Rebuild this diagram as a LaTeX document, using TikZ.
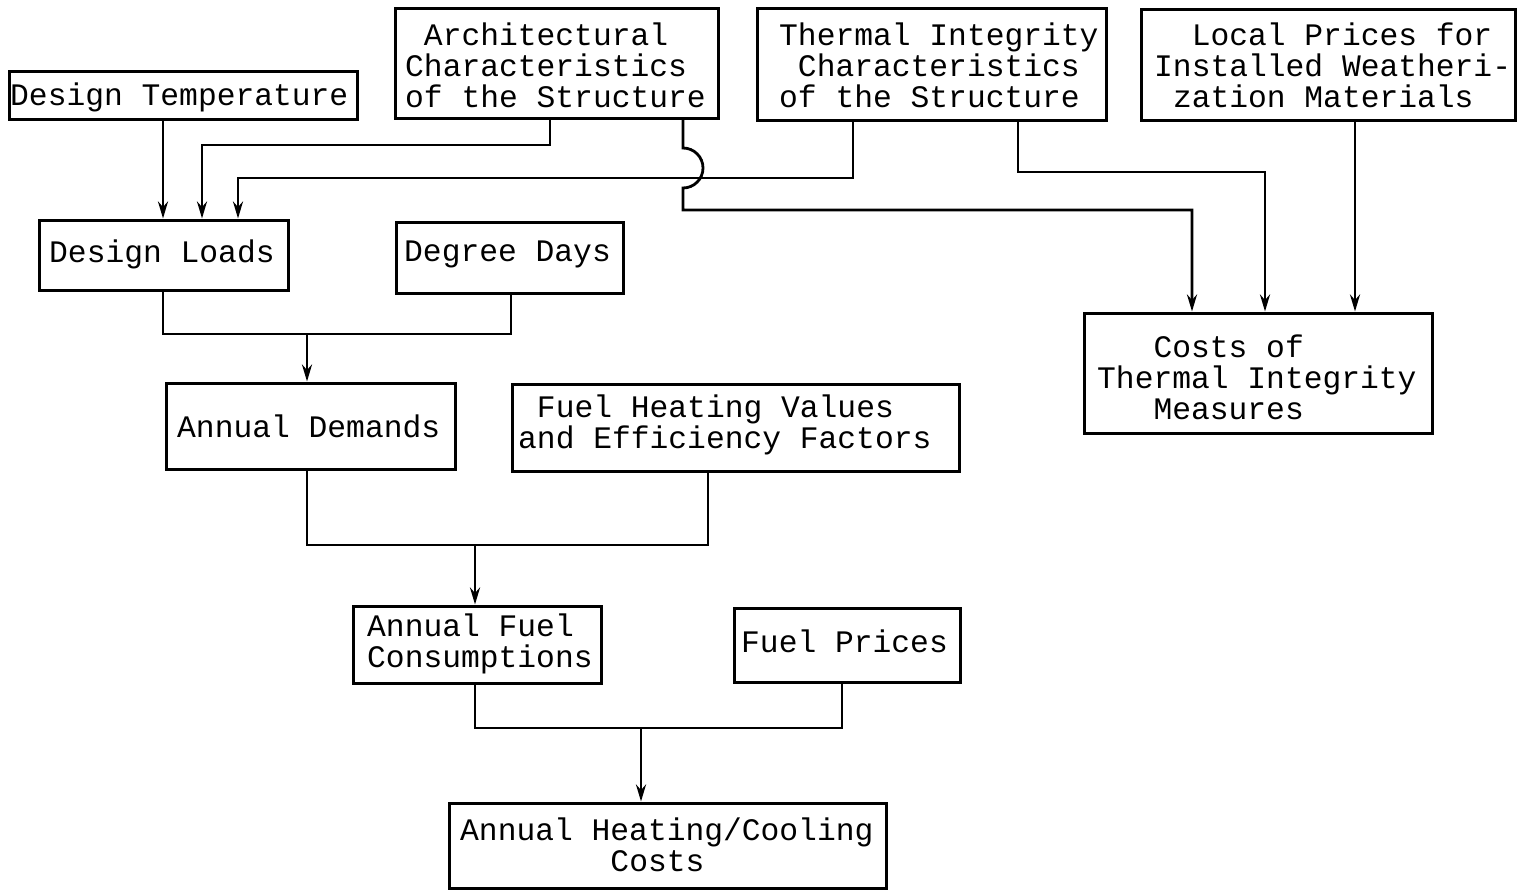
\documentclass[tikz,border=0pt]{standalone}
\usepackage{fontspec}
\newfontfamily\tw{Liberation Mono}
\usetikzlibrary{arrows.meta}
\begin{document}
\begin{tikzpicture}[x=1pt,y=-1pt,
  box/.style={draw, line width=3pt, inner sep=0pt},
  txt/.style={font={\tw\fontsize{31.3}{31}\selectfont}, align=left, anchor=west, inner sep=0pt},
  ln/.style={line width=2.8pt},
  arr/.style={line width=2.8pt, -{Stealth[length=17pt,width=10pt]}}]
\useasboundingbox (0,0) rectangle (1525,891);
% boxes
\node[box, minimum width=348pt, minimum height=48pt]  (dt)   at (183,95) {};
\node[box, minimum width=323pt, minimum height=109pt] (arch) at (556.5,63.5) {};
\node[box, minimum width=349pt, minimum height=111pt] (ti)   at (931.5,64.5) {};
\node[box, minimum width=374pt, minimum height=110pt] (lp)   at (1328,65) {};
\node[box, minimum width=249pt, minimum height=70pt]  (dl)   at (163.5,255) {};
\node[box, minimum width=227pt, minimum height=71pt]  (dd)   at (509.5,257.5) {};
\node[box, minimum width=348pt, minimum height=120pt] (co)   at (1258,373) {};
\node[box, minimum width=289pt, minimum height=86pt]  (ad)   at (310.5,426) {};
\node[box, minimum width=447pt, minimum height=87pt]  (fh)   at (735.5,427.5) {};
\node[box, minimum width=248pt, minimum height=77pt]  (afc)  at (477,644.5) {};
\node[box, minimum width=226pt, minimum height=74pt]  (fp)   at (847,645) {};
\node[box, minimum width=437pt, minimum height=85pt]  (ahc)  at (667.5,845.5) {};
% texts
\node[txt] (tdt)  at (10,97)   {Design Temperature};
\node[txt] (tarch) at (405,65) {\hphantom{x}Architectural\\Characteristics\\of the Structure};
\node[txt] (tti)  at (779,65)  {Thermal Integrity\\\hphantom{x}Characteristics\\of the Structure};
\node[txt] (tlp)  at (1154,65) {\hphantom{xx}Local Prices for\\Installed Weatheri-\\\hphantom{x}zation Materials};
\node[txt] (tdl)  at (49,254)  {Design Loads};
\node[txt] (tdd)  at (404,254) {Degree Days};
\node[txt] (tco)  at (1097,377) {\hphantom{xxx}Costs of\\Thermal Integrity\\\hphantom{xxx}Measures};
\node[txt] (tad)  at (177,426) {Annual Demands};
\node[txt] (tfh)  at (518,425) {\hphantom{x}Fuel Heating Values\\and Efficiency Factors};
\node[txt] (tafc) at (367,644) {Annual Fuel\\Consumptions};
\node[txt] (tfp)  at (741,641) {Fuel Prices};
\node[txt] (tahc) at (460,845) {Annual Heating/Cooling\\\hphantom{xxxxxxxx}Costs};
% helper coordinates
\coordinate (xa) at (163,0);
\coordinate (xb) at (202,0);
\coordinate (xc) at (238,0);
\coordinate (ca) at (550,145);
\coordinate (cb) at (853,178);
\coordinate (cj) at (683,148);
\coordinate (cd) at (683,210);
\coordinate (xe) at (1192,0);
\coordinate (cf) at (1018,172);
\coordinate (xg) at (1265,0);
\coordinate (xh) at (1355,0);
\coordinate (j1) at (307,334);
\coordinate (j2) at (475,545);
\coordinate (j3) at (641,728);
\coordinate (xi) at (307,0);
\coordinate (xk) at (708,0);
\coordinate (xl) at (475,0);
\coordinate (xm) at (842,0);
\coordinate (xn) at (511,0);
% connectors
\draw[arr] (dt.south -| xa) -- (dl.north -| xa);
\draw[arr] (arch.south -| ca) -- (ca) -| (dl.north -| xb);
\draw[arr] (ti.south -| cb) -- (cb) -| (dl.north -| xc);
\draw[arr] (arch.south -| cj) -- (cj) arc[start angle=90, end angle=-90, radius=20pt] -- (cd) -| (co.north -| xe);
\draw[arr] (ti.south -| cf) -- (cf) -| (co.north -| xg);
\draw[arr] (lp.south -| xh) -- (co.north -| xh);
\draw[ln] (dl.south -| xa) |- (j1) -| (dd.south -| xn);
\draw[arr] (j1) -- (ad.north -| j1);
\draw[ln] (ad.south -| xi) |- (j2) -| (fh.south -| xk);
\draw[arr] (j2) -- (afc.north -| j2);
\draw[ln] (afc.south -| xl) |- (j3) -| (fp.south -| xm);
\draw[arr] (j3) -- (ahc.north -| j3);
\end{tikzpicture}
\end{document}
